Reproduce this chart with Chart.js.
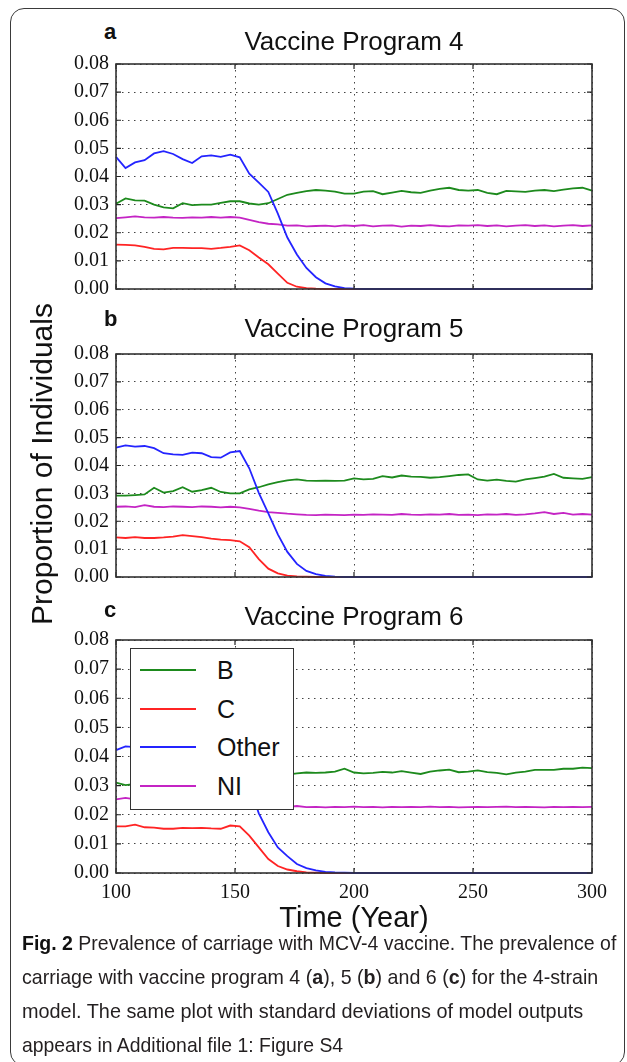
<!DOCTYPE html>
<html>
<head>
<meta charset="utf-8">
<script src="https://cdn.jsdelivr.net/npm/chart.js@4.4.0/dist/chart.umd.min.js"></script>
<style>
  body { margin: 0; background: #fff; }
  #page { position: relative; width: 627px; height: 1062px; overflow: hidden; font-family: "Liberation Sans", Arial, sans-serif; color: #111; }
  .frame { position: absolute; left: 10px; top: 8px; width: 613px; height: 1056px; border: 1.5px solid #3a3a3a; border-radius: 14px; }
  canvas { position: absolute; left: 0; }
  .title { position: absolute; left: 116px; width: 476px; text-align: center; font-size: 26px; line-height: 26px; }
  .letter { position: absolute; left: 104px; font-weight: bold; font-size: 22px; line-height: 22px; }
  .ylabel { position: absolute; left: -158px; top: 449px; width: 400px; height: 30px; text-align: center; font-size: 30px; line-height: 30px; transform: rotate(-90deg); }
  .xlabel { position: absolute; left: 116px; width: 476px; top: 903px; text-align: center; font-size: 29px; line-height: 29px; }
  #legend { position: absolute; left: 130px; top: 648px; width: 162px; height: 160px; border: 1.5px solid #333; background: #fff; z-index: 5; }
  #legend .row { position: absolute; left: 0; height: 30px; width: 160px; }
  #legend .swatch { position: absolute; left: 9px; top: 14px; width: 56px; height: 2px; }
  #legend .name { position: absolute; left: 86px; top: 0; font-size: 25px; line-height: 30px; }
  .caption { position: absolute; left: 22px; top: 926px; width: 600px; font-family: "Liberation Sans", Arial, sans-serif; font-size: 21px; line-height: 34px; color: #231f20; }
  .caption .cl { display: block; height: 34px; }
  .caption .cl span { display: inline-block; white-space: nowrap; transform-origin: 0 50%; }
</style>
</head>
<body>
<div id="page">
  <div class="frame"></div>
  <canvas id="chartA" width="627" height="263" style="top:45px"></canvas>
  <canvas id="chartB" width="627" height="261" style="top:335px"></canvas>
  <canvas id="chartC" width="627" height="284" style="top:621px"></canvas>

  <div class="letter" style="top:21px">a</div>
  <div class="title" style="top:28px">Vaccine Program 4</div>
  <div class="letter" style="top:308px">b</div>
  <div class="title" style="top:315px">Vaccine Program 5</div>
  <div class="letter" style="top:599px">c</div>
  <div class="title" style="top:603px">Vaccine Program 6</div>

  <div class="ylabel">Proportion of Individuals</div>
  <div class="xlabel">Time (Year)</div>
  <div id="legend"></div>

  <div class="caption">
    <div class="cl" data-w="594"><span><b style="color:#111">Fig. 2</b> Prevalence of carriage with MCV-4 vaccine. The prevalence of</span></div>
    <div class="cl" data-w="576"><span>carriage with vaccine program 4 (<b>a</b>), 5 (<b>b</b>) and 6 (<b>c</b>) for the 4-strain</span></div>
    <div class="cl" data-w="561"><span>model. The same plot with standard deviations of model outputs</span></div>
    <div class="cl" data-w="321"><span>appears in Additional file 1: Figure S4</span></div>
  </div>
</div>

<script>
var years = [100,104,108,112,116,120,124,128,132,136,140,144,148,152,156,160,164,168,172,176,180,184,188,192,196,
             200,204,208,212,216,220,224,228,232,236,240,244,248,252,256,260,264,268,272,276,280,284,288,292,296,300];

var seriesNames = ['B', 'C', 'Other', 'NI'];
var seriesColors = ['#1d8a1d', '#ff2424', '#2424ff', '#c424c4'];
var drawOrder = [3, 2, 0, 1];
var xTicks = [100, 150, 200, 250, 300];
var yTicks = [0, 0.01, 0.02, 0.03, 0.04, 0.05, 0.06, 0.07, 0.08];

// Vaccine Program 4
var prog4B = [0.0303,0.0322,0.0315,0.0314,0.0300,0.0290,0.0287,0.0305,0.0298,0.0300,0.0300,0.0306,0.0312,0.0312,
              0.0304,0.0300,0.0305,0.0320,0.0335,0.0342,0.0348,0.0352,0.0350,0.0346,0.0339,
              0.0339,0.0346,0.0348,0.0337,0.0343,0.0349,0.0344,0.0342,0.0350,0.0356,0.0360,0.0352,0.0350,
              0.0352,0.0342,0.0337,0.0349,0.0347,0.0345,0.0350,0.0352,0.0348,0.0353,0.0358,0.0360,0.0350];
var prog4C = [0.0158,0.0157,0.0155,0.0150,0.0143,0.0141,0.0146,0.0146,0.0145,0.0145,0.0143,0.0146,0.0150,0.0155,
              0.0138,0.0112,0.0088,0.0055,0.0022,0.0008,0.0003,0.0001,
              0,0,0,0,0,0,0,0,0,0,0,0,0,0,0,0,0,0,0,0,0,0,0,0,0,0,0,0,0];
var prog4Other = [0.0470,0.0430,0.0450,0.0458,0.0482,0.0490,0.0480,0.0462,0.0448,0.0472,0.0475,0.0470,0.0478,0.0468,
                  0.0410,0.0378,0.0345,0.0268,0.0183,0.0123,0.0075,0.0042,0.0020,0.0009,0.0003,0.0001,
                  0,0,0,0,0,0,0,0,0,0,0,0,0,0,0,0,0,0,0,0,0,0,0,0,0];
var prog4NI = [0.0252,0.0255,0.0258,0.0255,0.0254,0.0256,0.0254,0.0253,0.0255,0.0254,0.0256,0.0254,0.0256,0.0254,
               0.0246,0.0238,0.0232,0.0230,0.0225,0.0226,0.0223,0.0224,0.0225,0.0223,0.0226,
               0.0224,0.0227,0.0223,0.0225,0.0226,0.0222,0.0225,0.0224,0.0227,0.0224,
               0.0223,0.0226,0.0225,0.0227,0.0224,0.0226,0.0223,0.0225,0.0227,0.0224,
               0.0226,0.0223,0.0225,0.0227,0.0224,0.0226];

// Vaccine Program 5
var prog5B = [0.0292,0.0292,0.0294,0.0296,0.0320,0.0303,0.0308,0.0322,0.0306,0.0312,0.0320,0.0305,0.0300,0.0300,
              0.0314,0.0322,0.0332,0.0340,0.0347,0.0350,0.0346,0.0345,0.0346,0.0345,0.0346,
              0.0354,0.0350,0.0352,0.0362,0.0357,0.0364,0.0360,0.0359,0.0356,0.0358,
              0.0362,0.0366,0.0368,0.0350,0.0346,0.0349,0.0345,0.0342,0.0350,0.0355,
              0.0360,0.0370,0.0356,0.0354,0.0352,0.0358];
var prog5C = [0.0142,0.0140,0.0143,0.0140,0.0140,0.0142,0.0145,0.0150,0.0147,0.0143,0.0138,0.0134,0.0132,0.0128,
              0.0107,0.0064,0.0030,0.0013,0.0005,0.0002,0.0001,
              0,0,0,0,0,0,0,0,0,0,0,0,0,0,0,0,0,0,0,0,0,0,0,0,0,0,0,0,0,0];
var prog5Other = [0.0464,0.0472,0.0468,0.0470,0.0462,0.0444,0.0440,0.0438,0.0446,0.0444,0.0430,0.0428,0.0447,0.0452,
                  0.0390,0.0302,0.0228,0.0153,0.0090,0.0047,0.0022,0.0010,0.0004,0.0001,0,
                  0,0,0,0,0,0,0,0,0,0,0,0,0,0,0,0,0,0,0,0,0,0,0,0,0,0];
var prog5NI = [0.0252,0.0253,0.0251,0.0258,0.0252,0.0251,0.0253,0.0252,0.0251,0.0253,0.0252,0.0250,0.0252,0.0250,
               0.0244,0.0238,0.0233,0.0230,0.0227,0.0225,0.0223,0.0222,0.0224,0.0223,0.0222,
               0.0224,0.0223,0.0225,0.0224,0.0223,0.0226,0.0224,0.0223,0.0225,0.0224,
               0.0226,0.0223,0.0224,0.0222,0.0225,0.0224,0.0226,0.0223,0.0225,0.0228,
               0.0233,0.0226,0.0230,0.0224,0.0226,0.0224];

// Vaccine Program 6
var prog6B = [0.0310,0.0302,0.0306,0.0300,0.0305,0.0302,0.0298,0.0304,0.0301,0.0306,0.0300,0.0303,0.0305,0.0302,
              0.0312,0.0322,0.0330,0.0336,0.0338,0.0342,0.0345,0.0344,0.0345,0.0348,0.0358,
              0.0345,0.0342,0.0344,0.0347,0.0345,0.0350,0.0345,0.0340,0.0348,0.0352,
              0.0355,0.0346,0.0348,0.0352,0.0346,0.0344,0.0339,0.0345,0.0348,0.0354,
              0.0354,0.0354,0.0358,0.0358,0.0362,0.0360];
var prog6C = [0.0160,0.0160,0.0166,0.0157,0.0156,0.0152,0.0152,0.0155,0.0154,0.0155,0.0153,0.0152,0.0163,0.0160,
              0.0128,0.0088,0.0048,0.0024,0.0012,0.0006,0.0002,0.0001,
              0,0,0,0,0,0,0,0,0,0,0,0,0,0,0,0,0,0,0,0,0,0,0,0,0,0,0,0,0];
var prog6Other = [0.0422,0.0435,0.0432,0.0430,0.0428,0.0425,0.0430,0.0432,0.0428,0.0430,0.0434,0.0430,0.0432,0.0400,
                  0.0300,0.0205,0.0140,0.0088,0.0058,0.0031,0.0017,0.0009,0.0004,0.0002,0.0001,0,
                  0,0,0,0,0,0,0,0,0,0,0,0,0,0,0,0,0,0,0,0,0,0,0,0,0];
var prog6NI = [0.0253,0.0258,0.0253,0.0252,0.0254,0.0252,0.0253,0.0251,0.0253,0.0252,0.0254,0.0252,0.0253,0.0251,
               0.0244,0.0236,0.0232,0.0228,0.0226,0.0230,0.0226,0.0227,0.0225,0.0227,0.0226,
               0.0228,0.0226,0.0227,0.0225,0.0227,0.0226,0.0227,0.0226,0.0228,0.0226,
               0.0227,0.0225,0.0226,0.0227,0.0226,0.0227,0.0228,0.0226,0.0227,0.0226,
               0.0225,0.0227,0.0226,0.0227,0.0226,0.0227];

// box round the plot area and small inward ticks, matplotlib style
var framePlugin = {
    id: 'frame',
    afterDraw: function(chart) {
        var a = chart.chartArea, c = chart.ctx;
        var xs = chart.scales.x, ys = chart.scales.y;
        c.save();
        c.strokeStyle = '#222';
        c.lineWidth = 1.2;
        c.beginPath();
        ys.ticks.forEach(function(t) {
            var py = ys.getPixelForValue(t.value);
            c.moveTo(a.left, py); c.lineTo(a.left + 5, py);
            c.moveTo(a.right, py); c.lineTo(a.right - 5, py);
        });
        xs.ticks.forEach(function(t) {
            var px = xs.getPixelForValue(t.value);
            c.moveTo(px, a.top); c.lineTo(px, a.top + 5);
            c.moveTo(px, a.bottom); c.lineTo(px, a.bottom - 5);
        });
        c.stroke();
        c.strokeStyle = '#333';
        c.lineWidth = 1.6;
        c.strokeRect(a.left, a.top, a.right - a.left, a.bottom - a.top);
        c.restore();
    }
};

function makePanel(id, series, showX) {
    var ctx = document.getElementById(id).getContext('2d');
    return new Chart(ctx, {
        type: 'line',
        data: {
            datasets: series.map(function(vals, i) {
                return {
                    label: seriesNames[i],
                    data: years.map(function(yr, j) { return { x: yr, y: vals[j] }; }),
                    borderColor: seriesColors[i],
                    borderWidth: 1.8,
                    pointRadius: 0,
                    tension: 0,
                    fill: false,
                    clip: 3,
                    order: drawOrder[i]
                };
            })
        },
        options: {
            responsive: false,
            animation: false,
            events: [],
            layout: { padding: { left: 0, right: 35, top: 12, bottom: showX ? 0 : 12 } },
            plugins: {
                legend: { display: false },
                tooltip: { enabled: false },
                title: { display: false }
            },
            scales: {
                x: {
                    type: 'linear',
                    min: 100,
                    max: 300,
                    afterBuildTicks: function(s) { s.ticks = xTicks.map(function(v) { return { value: v }; }); },
                    afterFit: function(s) { s.height = showX ? 32 : 0; },
                    grid: { color: '#444', lineWidth: 1, drawTicks: false },
                    border: { display: false, dash: [1.5, 4.5] },
                    ticks: {
                        display: showX,
                        padding: 8,
                        color: '#111',
                        font: { family: '"Liberation Serif", serif', size: 20 }
                    }
                },
                y: {
                    min: 0,
                    max: 0.08,
                    afterBuildTicks: function(s) { s.ticks = yTicks.map(function(v) { return { value: v }; }); },
                    afterFit: function(s) { s.width = 116; },
                    grid: { color: '#444', lineWidth: 1, drawTicks: false },
                    border: { display: false, dash: [1.5, 4.5] },
                    ticks: {
                        padding: 7,
                        color: '#111',
                        font: { family: '"Liberation Serif", serif', size: 20 },
                        callback: function(v) { return Number(v).toFixed(2); }
                    }
                }
            }
        },
        plugins: [framePlugin]
    });
}

makePanel('chartA', [prog4B, prog4C, prog4Other, prog4NI], false);
makePanel('chartB', [prog5B, prog5C, prog5Other, prog5NI], false);
makePanel('chartC', [prog6B, prog6C, prog6Other, prog6NI], true);

// legend box drawn over panel c
var legend = document.getElementById('legend');
seriesNames.forEach(function(name, i) {
    var row = document.createElement('div');
    row.className = 'row';
    row.style.top = (6 + i * 38.5) + 'px';
    row.innerHTML = '<div class="swatch" style="background:' + seriesColors[i] + '"></div>' +
                    '<div class="name">' + name + '</div>';
    legend.appendChild(row);
});

// the caption font in the figure is a condensed one: squeeze each line to its width
document.querySelectorAll('.caption .cl').forEach(function(line) {
    var span = line.firstElementChild;
    var w = span.getBoundingClientRect().width;
    var target = Number(line.getAttribute('data-w'));
    if (w > 0) span.style.transform = 'scaleX(' + (target / w).toFixed(3) + ')';
});
</script>
</body>
</html>
